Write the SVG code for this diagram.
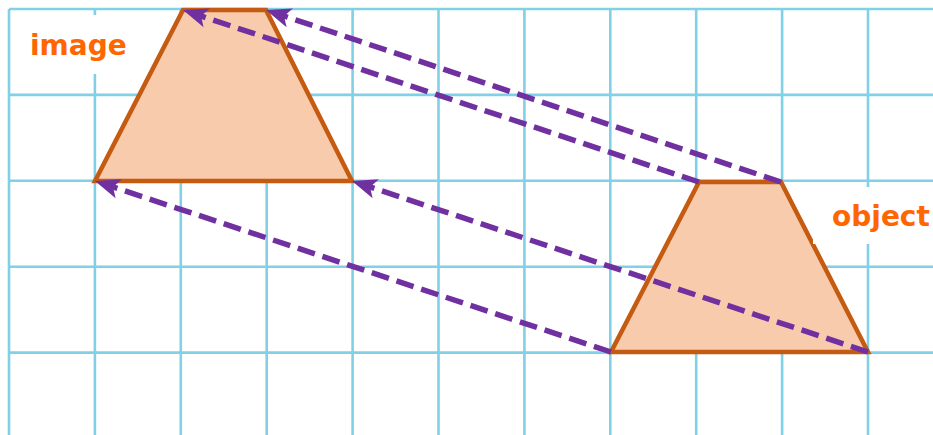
<svg xmlns="http://www.w3.org/2000/svg" width="933" height="435" viewBox="0 0 933 435">
<defs>
<style>
.grid line{stroke:#80D0E6;stroke-width:2.6}
.shape{fill:#F8CBAD;stroke:#C55A11;stroke-width:4.5;stroke-linejoin:miter}
.conn path{fill:none;stroke:#7030A0;stroke-width:5.5;stroke-dasharray:18 8;marker-end:url(#ah)}
.lbl{font-family:"DejaVu Sans","Liberation Sans",sans-serif;font-weight:bold;font-size:28px;fill:#FF6600}
.bg{fill:#FFFFFF}
</style>
<marker id="ah" markerUnits="userSpaceOnUse" orient="auto" refX="0" refY="0" markerWidth="40" markerHeight="40" viewBox="-20 -20 40 40" overflow="visible">
<path d="M14,0 L-11,-10 L-5,0 L-11,10 Z" fill="#7030A0"/>
</marker>
</defs>
<rect width="933" height="435" fill="#FFFFFF"/>
<g class="grid">
<line x1="9" y1="9" x2="9" y2="435"/>
<line x1="94.9" y1="9" x2="94.9" y2="435"/>
<line x1="180.8" y1="9" x2="180.8" y2="435"/>
<line x1="266.7" y1="9" x2="266.7" y2="435"/>
<line x1="352.6" y1="9" x2="352.6" y2="435"/>
<line x1="438.5" y1="9" x2="438.5" y2="435"/>
<line x1="524.4" y1="9" x2="524.4" y2="435"/>
<line x1="610.3" y1="9" x2="610.3" y2="435"/>
<line x1="696.2" y1="9" x2="696.2" y2="435"/>
<line x1="782.1" y1="9" x2="782.1" y2="435"/>
<line x1="868" y1="9" x2="868" y2="435"/>
<line x1="9" y1="9" x2="933" y2="9"/>
<line x1="9" y1="94.9" x2="933" y2="94.9"/>
<line x1="9" y1="180.8" x2="933" y2="180.8"/>
<line x1="9" y1="266.7" x2="933" y2="266.7"/>
<line x1="9" y1="352.6" x2="933" y2="352.6"/>
</g>
<g id="image-shape">
<polygon class="shape" points="183,10 266,10 352,181 95,181"/>
</g>
<g id="object-shape">
<polygon class="shape" points="699,182 781,182 868,352 611,352"/>
</g>
<g id="image-label">
<rect class="bg" x="26" y="15" width="110" height="59"/>
<text class="lbl" x="30" y="55" font-size="29">image</text>
</g>
<g id="object-label">
<rect class="bg" x="813" y="187" width="120" height="57"/>
<text class="lbl" x="832" y="226">object</text>
</g>
<g class="conn" id="connectors">
<path d="M781,182 L279.3,14.4"/>
<path d="M699,182 L196.3,14.4"/>
<path d="M868,352 L365.3,185.4"/>
<path d="M611,352 L108.3,185.4"/>
</g>
</svg>
